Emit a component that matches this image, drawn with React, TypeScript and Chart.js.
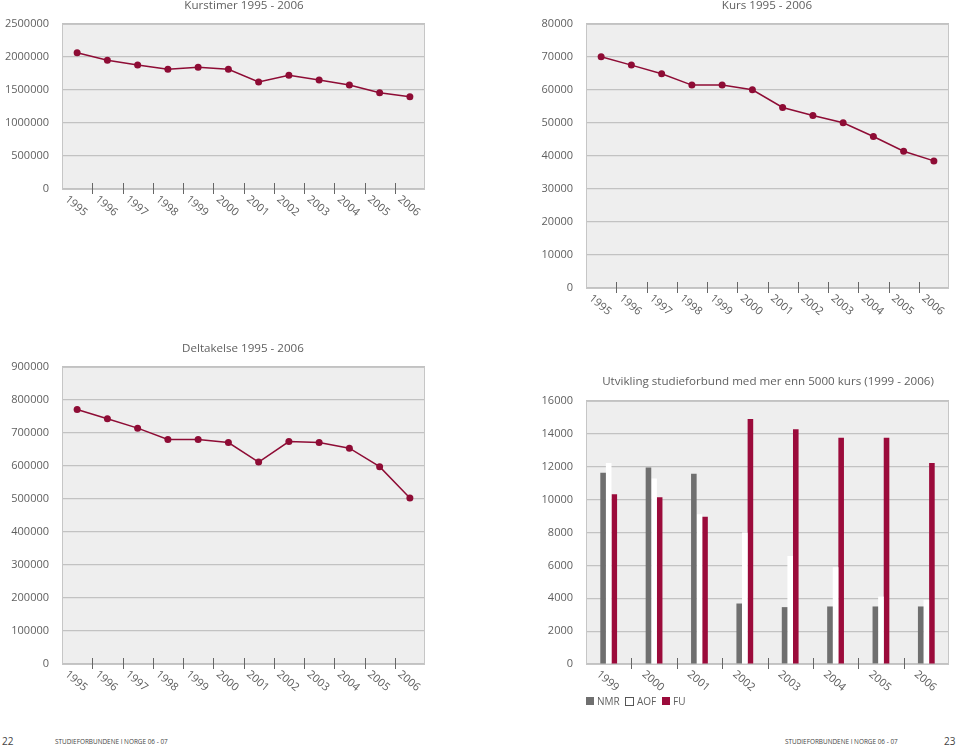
import React, { useEffect, useRef } from 'react';
import { Chart, registerables } from 'chart.js';

Chart.register(...registerables);

// ---------- data ----------
const years = ['1995', '1996', '1997', '1998', '1999', '2000', '2001', '2002', '2003', '2004', '2005', '2006'];
const kurstimer = [2065000, 1950000, 1879000, 1813000, 1843000, 1813000, 1621000, 1722000, 1652000, 1576000, 1460000, 1399000];
const kurs = [70070, 67540, 64900, 61480, 61480, 60060, 54700, 52270, 50050, 45900, 41460, 38520];
const deltakelse = [771000, 743000, 714700, 680400, 680000, 671000, 612000, 674000, 671000, 654000, 598000, 503000];

const barYears = ['1999', '2000', '2001', '2002', '2003', '2004', '2005', '2006'];
const nmr = [11630, 11950, 11570, 3680, 3460, 3500, 3500, 3500];
const aof = [12230, 11280, 9110, 8000, 6570, 5890, 4100, 3900];
const fu = [10330, 10150, 8960, 14900, 14280, 13770, 13770, 12230];
const seriesNames = ['NMR', 'AOF', 'FU'];

// ---------- styles ----------
const FONT = "'Open Sans', 'Noto Sans', sans-serif";
const TEXT = '#5f5f5f';
const GRID = '#c2c2c2';
const FRAME = '#c6c6c6';
const PLOT_BG = '#eeeeee';
const LINE = '#8e0c35';
const FU_COLOR = '#9b0b3b';
const NMR_COLOR = '#6f6f6f';
const AOF_COLOR = '#ffffff';

const framePlugin = {
  id: 'frame',
  beforeDraw(chart: any) {
    const { ctx, chartArea: a } = chart;
    ctx.save();
    ctx.fillStyle = PLOT_BG;
    ctx.fillRect(a.left, a.top, a.right - a.left, a.bottom - a.top);
    ctx.restore();
  },
  beforeDatasetsDraw(chart: any) {
    const { ctx, chartArea: a } = chart;
    ctx.save();
    ctx.strokeStyle = FRAME;
    ctx.lineWidth = 1;
    ctx.strokeRect(Math.round(a.left) + 0.5, Math.round(a.top) + 0.5, Math.round(a.right - a.left) - 1, Math.round(a.bottom - a.top));
    ctx.restore();
  },
};

const xDecorPlugin = {
  id: 'xDecor',
  afterDraw(chart: any) {
    const { ctx, chartArea: a, scales } = chart;
    const x = scales.x;
    const labels: string[] = chart.data.labels;
    const n = labels.length;
    ctx.save();
    ctx.strokeStyle = '#666666';
    ctx.lineWidth = 1;
    const b = Math.round(a.bottom);
    for (let i = 1; i < n; i++) {
      const px = Math.round(x.getPixelForValue(i - 0.5)) + 0.5;
      ctx.beginPath();
      ctx.moveTo(px, b - 6);
      ctx.lineTo(px, b + 5);
      ctx.stroke();
    }
    ctx.fillStyle = TEXT;
    ctx.font = `11px ${FONT}`;
    ctx.textAlign = 'center';
    ctx.textBaseline = 'middle';
    for (let i = 0; i < n; i++) {
      const px = x.getPixelForValue(i);
      ctx.save();
      ctx.translate(px - 1, b + 17);
      ctx.rotate((40 * Math.PI) / 180);
      ctx.fillText(labels[i], 0, 0);
      ctx.restore();
    }
    ctx.restore();
  },
};

type Box = { left: number; top: number; width: number; height: number; padTop: number; padRight: number; yWidth: number; xHeight: number };

function yScale(max: number, step: number, yWidth: number) {
  return {
    min: 0,
    max,
    ticks: {
      stepSize: step,
      padding: 13,
      color: TEXT,
      font: { family: FONT, size: 11 },
      callback: (v: any) => String(v),
    },
    grid: { color: GRID, lineWidth: 1.2, drawTicks: false },
    border: { display: false },
    afterFit: (s: any) => {
      s.width = yWidth;
    },
  };
}

function xScale(xHeight: number) {
  return {
    type: 'category' as const,
    offset: true,
    grid: { display: false, drawTicks: false },
    border: { display: false },
    ticks: { display: false },
    afterFit: (s: any) => {
      s.height = xHeight;
    },
  };
}

function LineChart(props: Box & { labels: string[]; values: number[]; max: number; step: number }) {
  const ref = useRef<HTMLCanvasElement>(null);
  useEffect(() => {
    const chart = new Chart(ref.current as HTMLCanvasElement, {
      type: 'line',
      data: {
        labels: props.labels,
        datasets: [
          {
            data: props.values,
            borderColor: LINE,
            borderWidth: 1.5,
            pointRadius: 3.5,
            pointBackgroundColor: LINE,
            pointBorderWidth: 0,
            tension: 0,
            clip: false as any,
          },
        ],
      },
      options: {
        responsive: false,
        animation: false,
        layout: { padding: { top: props.padTop, right: props.padRight, left: 0, bottom: 0 } },
        plugins: { legend: { display: false }, tooltip: { enabled: false }, title: { display: false } },
        scales: {
          x: xScale(props.xHeight) as any,
          y: yScale(props.max, props.step, props.yWidth) as any,
        },
      },
      plugins: [framePlugin, xDecorPlugin],
    });
    return () => chart.destroy();
  }, []);
  return (
    <canvas
      ref={ref}
      width={props.width}
      height={props.height}
      style={{ position: 'absolute', left: props.left, top: props.top, width: props.width, height: props.height }}
    />
  );
}

function BarChart(props: Box) {
  const ref = useRef<HTMLCanvasElement>(null);
  useEffect(() => {
    const common = { categoryPercentage: 0.37, barPercentage: 1, borderWidth: 0 };
    const chart = new Chart(ref.current as HTMLCanvasElement, {
      type: 'bar',
      data: {
        labels: barYears,
        datasets: [
          { label: seriesNames[0], data: nmr, backgroundColor: NMR_COLOR, ...common },
          { label: seriesNames[1], data: aof, backgroundColor: AOF_COLOR, ...common },
          { label: seriesNames[2], data: fu, backgroundColor: FU_COLOR, ...common },
        ],
      },
      options: {
        responsive: false,
        animation: false,
        layout: { padding: { top: props.padTop, right: props.padRight, left: 0, bottom: 0 } },
        plugins: { legend: { display: false }, tooltip: { enabled: false }, title: { display: false } },
        scales: {
          x: xScale(props.xHeight) as any,
          y: yScale(16000, 2000, props.yWidth) as any,
        },
      },
      plugins: [framePlugin, xDecorPlugin],
    });
    return () => chart.destroy();
  }, []);
  return (
    <canvas
      ref={ref}
      width={props.width}
      height={props.height}
      style={{ position: 'absolute', left: props.left, top: props.top, width: props.width, height: props.height }}
    />
  );
}

function Title({ text, cx, cy }: { text: string; cx: number; cy: number }) {
  return (
    <div
      style={{
        position: 'absolute',
        left: cx - 250,
        top: cy - 8,
        width: 500,
        height: 16,
        lineHeight: '16px',
        textAlign: 'center',
        fontFamily: FONT,
        fontSize: 11.6,
        color: TEXT,
        whiteSpace: 'nowrap',
      }}
    >
      {text}
    </div>
  );
}

function LegendItem({ x, color, border, text }: { x: number; color: string; border: boolean; text: string }) {
  return (
    <div style={{ position: 'absolute', left: x, top: 693, height: 16, display: 'flex', alignItems: 'center' }}>
      <div
        style={{
          width: border ? 7 : 8,
          height: border ? 7 : 8,
          background: color,
          border: border ? '0.8px solid #555' : 'none',
          marginRight: 3,
        }}
      />
      <span style={{ fontFamily: FONT, fontSize: 10, color: TEXT, lineHeight: '16px' }}>{text}</span>
    </div>
  );
}

export default function App() {
  const footerSmall: React.CSSProperties = {
    position: 'absolute',
    fontFamily: FONT,
    fontSize: 6.4,
    color: '#444',
    lineHeight: '10px',
    whiteSpace: 'nowrap',
    top: 737,
  };
  const pageNum: React.CSSProperties = {
    position: 'absolute',
    fontFamily: FONT,
    fontSize: 10,
    color: '#444',
    lineHeight: '12px',
    top: 735,
  };
  return (
    <div style={{ position: 'absolute', left: 0, top: 0, width: 960, height: 745, background: '#fff', overflow: 'hidden' }}>
      <LineChart left={0} top={0} width={480} height={230} padTop={24} padRight={55} yWidth={62} xHeight={41}
        labels={years} values={kurstimer} max={2500000} step={500000} />
      <LineChart left={480} top={0} width={480} height={330} padTop={24} padRight={11} yWidth={106} xHeight={42}
        labels={years} values={kurs} max={80000} step={10000} />
      <LineChart left={0} top={330} width={480} height={380} padTop={37} padRight={55} yWidth={62} xHeight={46}
        labels={years} values={deltakelse} max={900000} step={100000} />
      <BarChart left={480} top={330} width={480} height={380} padTop={71} padRight={11} yWidth={106} xHeight={46} />

      <Title text="Kurstimer 1995 - 2006" cx={244} cy={5} />
      <Title text="Kurs 1995 - 2006" cx={767} cy={5} />
      <Title text="Deltakelse 1995 - 2006" cx={243} cy={348} />
      <Title text="Utvikling studieforbund med mer enn 5000 kurs (1999 - 2006)" cx={768} cy={381} />

      <LegendItem x={586} color={NMR_COLOR} border={false} text={seriesNames[0]} />
      <LegendItem x={625} color={AOF_COLOR} border={true} text={seriesNames[1]} />
      <LegendItem x={662} color={FU_COLOR} border={false} text={seriesNames[2]} />

      <div style={{ ...pageNum, left: 2 }}>22</div>
      <div style={{ ...footerSmall, left: 55 }}>STUDIEFORBUNDENE I NORGE 06 - 07</div>
      <div style={{ ...footerSmall, left: 785 }}>STUDIEFORBUNDENE I NORGE 06 - 07</div>
      <div style={{ ...pageNum, left: 944 }}>23</div>
    </div>
  );
}
